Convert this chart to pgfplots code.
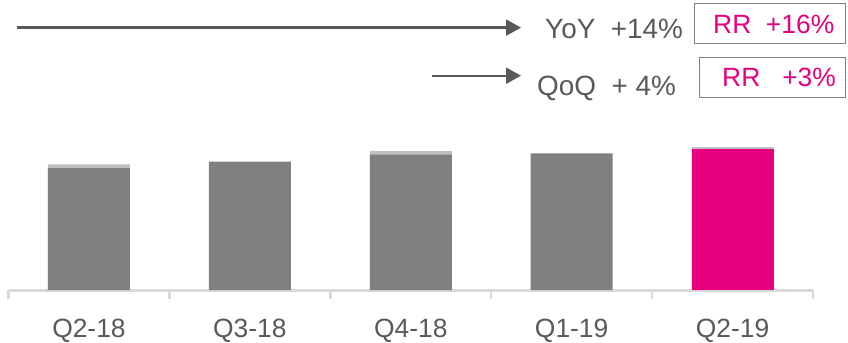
\documentclass[border=0pt]{standalone}
\usepackage{pgfplots}
\pgfplotsset{compat=1.18}
\usepackage{fontspec}
\setmainfont{Liberation Sans}
\usetikzlibrary{arrows.meta}
\definecolor{bargrey}{HTML}{808080}
\definecolor{lightgrey}{HTML}{BFBFBF}
\definecolor{magenta}{HTML}{E6007E}
\definecolor{txtgrey}{HTML}{595959}
\definecolor{axgrey}{HTML}{D9D9D9}
\definecolor{boxgrey}{HTML}{808080}
\begin{document}
\begin{tikzpicture}[x=1bp,y=1bp]
\useasboundingbox (0,0) rectangle (848,342);
\begin{axis}[
  at={(8.5bp,52bp)}, anchor=south west,
  scale only axis, width=804.5bp, height=150bp,
  xmin=-0.5, xmax=4.5, ymin=0, ymax=150,
  axis y line=none, axis x line*=bottom,
  x axis line style={axgrey, line width=3bp, -},
  xtick={0,1,2,3,4},
  xticklabels={Q2-18,Q3-18,Q4-18,Q1-19,Q2-19},
  major tick length=0pt,
  minor xtick={-0.5,0.5,1.5,2.5,3.5,4.5},
  minor tick length=9bp,
  tick align=outside,
  minor tick style={axgrey, line width=2.5bp},
  xticklabel style={font=\fontsize{26.5}{26.5}\selectfont, text=txtgrey, anchor=base, yshift=-47bp},
  ybar, bar shift=0pt, bar width=82bp,
  clip=false,
]
\addplot[fill=lightgrey, draw=none] coordinates {(0,125.7) (2,139) (4,143)};
\addplot[fill=bargrey, draw=none] coordinates {(0,122) (1,128.3) (2,135.3) (3,136.7)};
\addplot[fill=magenta, draw=none] coordinates {(4,141.3)};
\end{axis}
% annotations
\draw[txtgrey, line width=2.2bp, -{Triangle[length=15bp,width=16bp]}] (17,314.4) -- (521,314.4);
\draw[txtgrey, line width=2.2bp, -{Triangle[length=15bp,width=16bp]}] (432,266.3) -- (521,266.3);
\node[anchor=base west, inner sep=0, text=txtgrey, font=\fontsize{28}{28}\selectfont] at (545,304) {YoY\ \ +14\%};
\node[anchor=base west, inner sep=0, text=txtgrey, font=\fontsize{28}{28}\selectfont] at (537,247) {QoQ\ \ + 4\%};
\draw[boxgrey, line width=1bp] (694.5,299) rectangle (845,338);
\draw[boxgrey, line width=1bp] (699,245) rectangle (845,285);
\node[anchor=base west, inner sep=0, text=magenta, font=\fontsize{26.5}{26.5}\selectfont] at (713,309) {RR\ \ +16\%};
\node[anchor=base west, inner sep=0, text=magenta, font=\fontsize{26.5}{26.5}\selectfont] at (722,256) {RR\ \ \ +3\%};
\end{tikzpicture}
\end{document}
